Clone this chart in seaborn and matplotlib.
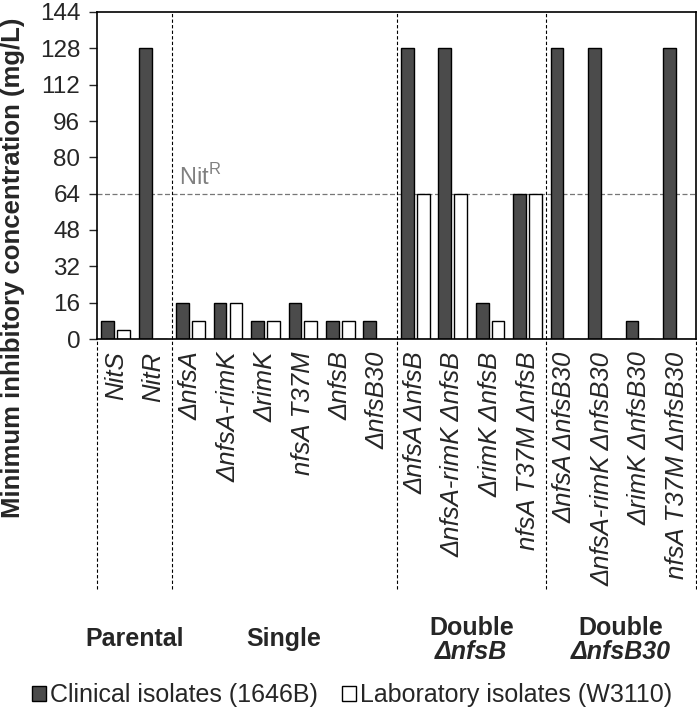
import pandas as pd
import numpy as np
import matplotlib
matplotlib.use("Agg")
import matplotlib.pyplot as plt
import matplotlib.transforms as mtransforms
from matplotlib.patches import Patch
import seaborn as sns

# Data
strains = ["NitS", "NitR",
           "ΔnfsA", "ΔnfsA-rimK", "ΔrimK", "nfsA T37M", "ΔnfsB", "ΔnfsB30",
           "ΔnfsA ΔnfsB", "ΔnfsA-rimK ΔnfsB", "ΔrimK ΔnfsB", "nfsA T37M ΔnfsB",
           "ΔnfsA ΔnfsB30", "ΔnfsA-rimK ΔnfsB30", "ΔrimK ΔnfsB30", "nfsA T37M ΔnfsB30"]
clinical = [8, 128, 16, 16, 8, 16, 8, 8, 128, 128, 16, 64, 128, 128, 8, 128]
laboratory = [4, 0, 8, 16, 8, 8, 8, 0, 64, 64, 8, 64, 0, 0, 0, 0]
series = ["Clinical isolates (1646B)", "Laboratory isolates (W3110)"]
yticks = [0, 16, 32, 48, 64, 80, 96, 112, 128, 144]
nitr_level = 64
group_names = ["Parental", "Single", "Double", "Double"]
group_sub = ["", "", "ΔnfsB", "ΔnfsB30"]
group_bounds = [(0, 1), (2, 7), (8, 11), (12, 15)]

df = pd.DataFrame({
    "strain": strains * 2,
    "mic": clinical + laboratory,
    "isolate": [series[0]] * len(strains) + [series[1]] * len(strains),
})

sns.set_style("white")
plt.rcParams['font.family'] = ['Liberation Sans', 'DejaVu Sans']
plt.rcParams['mathtext.fontset'] = 'custom'
plt.rcParams['mathtext.rm'] = 'Liberation Sans'

W, H = 697, 712
fig = plt.figure(figsize=(W / 100, H / 100), dpi=100)
ax = fig.add_axes([97 / W, 373 / H, 599 / W, 327 / H])

palette = {series[0]: "#4b4b4b", series[1]: "white"}
sns.barplot(data=df, x="strain", y="mic", hue="isolate", order=strains,
            hue_order=series, palette=palette, edgecolor="black", linewidth=1,
            width=0.85, gap=0.2, errorbar=None, legend=False, ax=ax)

ax.set_xlim(-0.5, len(strains) - 0.5)
ax.set_ylim(0, 144)
ax.set_yticks(yticks)
ax.tick_params(axis="y", labelsize=17.5, length=6, width=1, direction="out", pad=6, left=True)
ax.tick_params(axis="x", labelsize=18.5, length=0, pad=9)
for lab in ax.get_xticklabels():
    lab.set_rotation(90)
    lab.set_fontstyle("italic")
ax.set_xlabel("")
ax.set_ylabel("")
for s in ax.spines.values():
    s.set_visible(True)
    s.set_color("black")
    s.set_linewidth(1.2)

# NitR threshold line
ax.axhline(nitr_level, color="#777777", ls=(0, (4, 2)), lw=0.9, zorder=0)
ax.text(2.25, nitr_level + 1.5, r"Nit$^{\mathrm{R}}$", color="#808080", fontsize=17,
        ha="center", va="bottom")

# group separators (inside plot and down through the labels)
below = -(589 - 339) / 327
trans = ax.get_xaxis_transform()
for xb in [-0.5, 1.5, 7.5, 11.5, 15.5]:
    y0 = 1 if xb in (1.5, 7.5, 11.5) else 0
    ax.plot([xb, xb], [below, y0], transform=trans, color="black",
            ls=(0, (3, 2)), lw=0.8, clip_on=False, zorder=0)

# group labels
gtrans = mtransforms.blended_transform_factory(ax.transData, fig.transFigure)
for name, sub, (a, b) in zip(group_names, group_sub, group_bounds):
    xc = (a + b) / 2
    if sub:
        fig.text(xc, 1 - 628 / H, name, transform=gtrans, ha="center", va="center",
                 fontsize=18, fontweight="bold")
        fig.text(xc, 1 - 652 / H, sub, transform=gtrans, ha="center", va="center",
                 fontsize=18, fontweight="bold", fontstyle="italic")
    else:
        fig.text(xc, 1 - 639 / H, name, transform=gtrans, ha="center", va="center",
                 fontsize=18, fontweight="bold")

# y label
fig.text(13 / W, 1 - 268 / H, "Minimum inhibitory concentration (mg/L)", rotation=90,
         ha="center", va="center", fontsize=18.5, fontweight="bold")

# legend
handles = [Patch(facecolor=palette[s], edgecolor="black", linewidth=1) for s in series]
fig.legend(handles, series, loc="center", bbox_to_anchor=(352 / W, 1 - 695 / H),
           ncol=2, frameon=False, fontsize=18, handlelength=0.55, handleheight=0.55,
           handletextpad=0.15, columnspacing=1.0, borderpad=0)

fig.savefig("out.png", dpi=100)
